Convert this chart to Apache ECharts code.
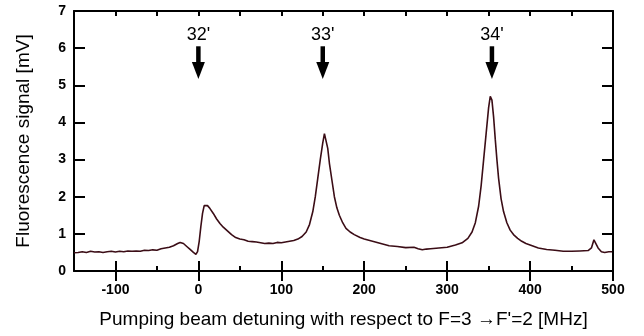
<!DOCTYPE html>
<html>
<head>
<meta charset="utf-8">
<script src="https://cdn.jsdelivr.net/npm/echarts@6/dist/echarts.min.js"></script>
<style>
html,body{margin:0;padding:0;background:#fff;}
#chart{width:644px;height:336px;}
</style>
</head>
<body>
<div id="chart"></div>
<script>
// Detuning (MHz) and fluorescence signal (mV)
const detuning = [-150,-145,-140,-135,-130,-125,-120,-115,-110,-105,-100,-95,-90,-85,-80,-75,-70,-65,-60,-55,-50,-45,-40,-35,-30,-25,-22,-18,-14,-10,-6,-3,-1,1,3,5,7,9,11,14,18,22,26,30,35,40,45,50,55,60,65,70,75,80,85,90,95,100,105,110,115,120,125,130,134,138,141,144,147,150,152,154,156,158,161,164,167,170,174,178,183,188,195,200,210,220,230,240,250,260,265,270,275,280,290,300,310,318,325,330,334,338,341,344,347,350,352,354,356,358,360,362,365,368,372,376,380,385,390,395,400,410,420,430,440,450,460,470,474,477,479,482,486,490,495,499];
const signal = [0.49,0.50,0.52,0.50,0.53,0.51,0.52,0.50,0.52,0.53,0.51,0.53,0.52,0.54,0.53,0.54,0.53,0.56,0.55,0.57,0.56,0.60,0.62,0.64,0.68,0.74,0.77,0.74,0.66,0.58,0.50,0.45,0.52,0.80,1.20,1.55,1.76,1.80,1.76,1.68,1.55,1.40,1.28,1.18,1.08,0.98,0.90,0.86,0.84,0.80,0.79,0.78,0.76,0.74,0.75,0.74,0.77,0.76,0.78,0.80,0.82,0.86,0.93,1.05,1.25,1.60,2.00,2.50,3.00,3.45,3.70,3.65,3.30,2.90,2.45,2.00,1.70,1.50,1.30,1.15,1.05,0.98,0.90,0.86,0.80,0.74,0.68,0.66,0.63,0.64,0.60,0.57,0.59,0.60,0.62,0.64,0.70,0.76,0.88,1.05,1.30,1.75,2.30,3.00,3.70,4.40,4.70,4.60,4.15,3.55,3.00,2.50,1.95,1.60,1.30,1.10,0.98,0.88,0.80,0.74,0.70,0.62,0.58,0.56,0.53,0.53,0.54,0.55,0.62,0.84,0.80,0.62,0.52,0.50,0.52,0.52];

// Annotations (hyperfine component markers)
const annX = [0, 150, 354];
const annLabels = ["32'", "33'", "34'"];
const arrowTop = 6.05, arrowTip = 5.17, labelY = 6.35;

// Axis settings / tick labels
const xMin = -150, xMax = 500, xMinorStep = 50;
const xMajorTicks = [-100, 0, 100, 200, 300, 400, 500];
const yMin = 0, yMax = 7, yStep = 1;

const FONT = 'Liberation Sans, Arial, Helvetica, sans-serif';
const lineData = detuning.map((d, i) => [d, signal[i]]);

const chart = echarts.init(document.getElementById('chart'), null, {renderer: 'canvas'});

const axisLine = {show: true, onZero: false, lineStyle: {color: '#000', width: 2}};
const tickStyle = {color: '#000', width: 2};

function minorX(pos, withLabels) {
  return {
    type: 'value', min: xMin, max: xMax, interval: xMinorStep, position: pos,
    axisLine: axisLine,
    axisTick: {show: true, inside: true, length: 5, lineStyle: tickStyle},
    splitLine: {show: false},
    axisLabel: withLabels ? {show: true, color: '#000', fontFamily: FONT, fontSize: 14, fontWeight: 'bold', margin: 12,
      formatter: v => (xMajorTicks.indexOf(v) >= 0 ? String(v) : '')} : {show: false}
  };
}
function majorX(pos) {
  return {
    type: 'value', min: xMin, max: xMax, interval: xMinorStep, position: pos,
    axisLine: {show: false},
    axisTick: {show: true, inside: true, length: 10, lineStyle: tickStyle, customValues: xMajorTicks},
    splitLine: {show: false},
    axisLabel: {show: false}
  };
}

const xBottom = minorX('bottom', true);
xBottom.name = "Pumping beam detuning with respect to F=3 \u2192F'=2 [MHz]";
xBottom.nameLocation = 'middle';
xBottom.nameGap = 39;
xBottom.nameTextStyle = {color: '#000', fontFamily: FONT, fontSize: 19};

const option = {
  backgroundColor: '#fff',
  animation: false,
  grid: {left: 74, right: 31, top: 11, bottom: 65, containLabel: false},
  xAxis: [xBottom, majorX('bottom'), minorX('top', false), majorX('top')],
  yAxis: [{
    type: 'value', min: yMin, max: yMax, interval: yStep, position: 'left',
    axisLine: axisLine,
    axisTick: {show: true, inside: true, length: 11, lineStyle: tickStyle},
    splitLine: {show: false},
    axisLabel: {show: true, color: '#000', fontFamily: FONT, fontSize: 14, fontWeight: 'bold', margin: 8},
    name: 'Fluorescence signal [mV]',
    nameLocation: 'middle', nameGap: 41,
    nameTextStyle: {color: '#000', fontFamily: FONT, fontSize: 19}
  }, {
    type: 'value', min: yMin, max: yMax, interval: yStep, position: 'right',
    axisLine: axisLine,
    axisTick: {show: true, inside: true, length: 11, lineStyle: tickStyle},
    splitLine: {show: false},
    axisLabel: {show: false}
  }],
  series: [{
    type: 'line',
    data: lineData,
    showSymbol: false,
    symbol: 'none',
    lineStyle: {color: '#3b0d16', width: 1.6},
    z: 3
  }, {
    type: 'custom',
    data: annX.map(x => [x, arrowTop, arrowTip]),
    renderItem: function (params, api) {
      const p1 = api.coord([api.value(0), api.value(1)]);
      const p2 = api.coord([api.value(0), api.value(2)]);
      const headH = 17, headW = 6.5;
      return {
        type: 'group',
        children: [{
          type: 'line',
          shape: {x1: p1[0], y1: p1[1], x2: p2[0], y2: p2[1] - headH + 1},
          style: {stroke: '#000', lineWidth: 4.5}
        }, {
          type: 'polygon',
          shape: {points: [[p2[0] - headW, p2[1] - headH], [p2[0] + headW, p2[1] - headH], [p2[0], p2[1]]]},
          style: {fill: '#000'}
        }]
      };
    },
    z: 4
  }, {
    type: 'scatter',
    data: annX.map((x, i) => ({value: [x, labelY], name: annLabels[i]})),
    symbolSize: 0,
    itemStyle: {opacity: 1},
    label: {show: true, position: 'inside', formatter: p => p.name,
      color: '#000', fontFamily: FONT, fontSize: 18, opacity: 1},
    z: 5
  }]
};
chart.setOption(option);
</script>
</body>
</html>
